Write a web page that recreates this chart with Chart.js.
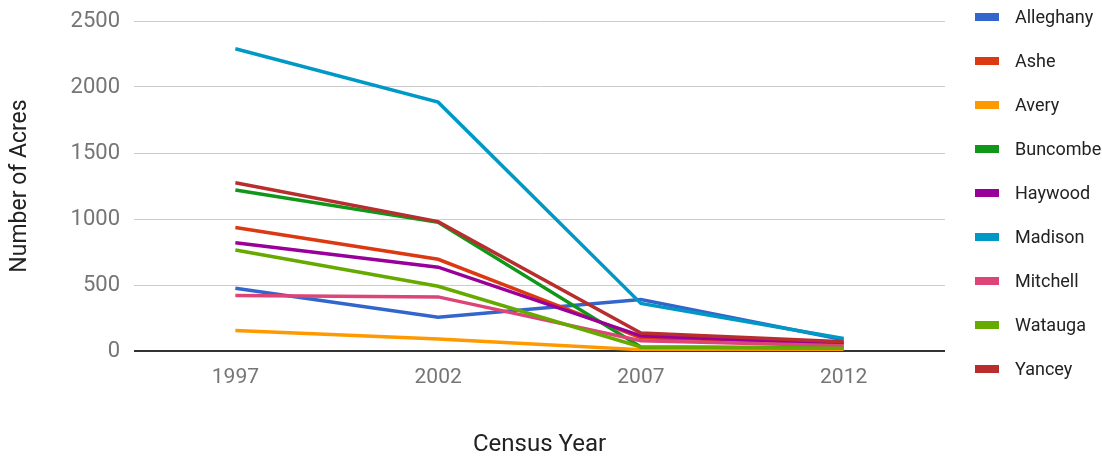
<!DOCTYPE html>
<html>
<head>
<meta charset="utf-8">
<script src="https://cdn.jsdelivr.net/npm/chart.js@4/dist/chart.umd.min.js"></script>
<style>
  body { margin: 0; background: #fff; font-family: Roboto, sans-serif; }
  #wrap { position: relative; width: 1102px; height: 457px; }
  #legend { position: absolute; left: 975px; top: 0; margin: 0; padding: 0; list-style: none; }
  #legend li { position: relative; height: 44px; line-height: 34px; font-size: 18px; color: #222; padding-left: 40px; white-space: nowrap; }
  #legend li span { position: absolute; left: 0; top: 13px; width: 24px; height: 8px; }
</style>
</head>
<body>
<div id="wrap">
  <canvas id="chart"></canvas>
  <ul id="legend"></ul>
</div>
<script>
// Census years on the x axis
const years = ['1997', '2002', '2007', '2012'];

// Acres per county, one value per census year
const alleghany = [475, 255, 390, 85];
const ashe      = [935, 695, 100, 65];
const avery     = [155, 90, 10, 5];
const buncombe  = [1220, 975, 30, 25];
const haywood   = [820, 635, 115, 55];
const madison   = [2290, 1885, 360, 95];
const mitchell  = [420, 410, 78, 40];
const watauga   = [765, 490, 30, 20];
const yancey    = [1275, 980, 136, 70];

const countyNames = ['Alleghany', 'Ashe', 'Avery', 'Buncombe', 'Haywood', 'Madison', 'Mitchell', 'Watauga', 'Yancey'];
const countyData = [alleghany, ashe, avery, buncombe, haywood, madison, mitchell, watauga, yancey];
const countyColors = ['#3366cc', '#dc3912', '#ff9900', '#109618', '#990099', '#0099c6', '#dd4477', '#66aa00', '#b82e2e'];

const yTicks = [0, 500, 1000, 1500, 2000, 2500];

// Simple HTML legend, filled from the datasets after every update
const htmlLegend = {
  id: 'htmlLegend',
  afterUpdate(chart) {
    const ul = document.getElementById('legend');
    ul.innerHTML = '';
    chart.data.datasets.forEach(ds => {
      const li = document.createElement('li');
      const box = document.createElement('span');
      box.style.background = ds.borderColor;
      li.appendChild(box);
      li.appendChild(document.createTextNode(ds.label));
      ul.appendChild(li);
    });
  }
};

const datasets = countyNames.map((name, i) => ({
  label: name,
  data: countyData[i],
  borderColor: countyColors[i],
  backgroundColor: countyColors[i],
  borderWidth: 3.5,
  pointRadius: 0,
  tension: 0,
  order: countyNames.length - i // later counties draw on top
}));

new Chart(document.getElementById('chart'), {
  type: 'line',
  data: { labels: years, datasets: datasets },
  plugins: [htmlLegend],
  options: {
    responsive: true,
    maintainAspectRatio: false,
    animation: false,
    layout: { padding: { top: 21, right: 157, bottom: 0, left: 0 } },
    plugins: {
      legend: { display: false },
      tooltip: { enabled: false }
    },
    scales: {
      x: {
        offset: true,
        grid: { display: false, drawTicks: false },
        border: { display: false },
        ticks: { color: '#757575', font: { family: 'Roboto', size: 21 }, padding: 14 },
        title: { display: true, text: 'Census Year', color: '#222', font: { family: 'Roboto', size: 24 }, padding: { top: 0, bottom: -2 } },
        afterFit: scale => { scale.height = 106; }
      },
      y: {
        min: 0,
        max: 2500,
        afterBuildTicks: scale => { scale.ticks = yTicks.map(v => ({ value: v })); },
        grid: {
          drawTicks: false,
          color: ctx => ctx.tick && ctx.tick.value === 0 ? '#333' : '#ccc',
          lineWidth: ctx => ctx.tick && ctx.tick.value === 0 ? 2 : 1
        },
        border: { display: false },
        ticks: { color: '#757575', font: { family: 'Roboto', size: 22 }, padding: 14, callback: v => String(v) },
        title: { display: true, text: 'Number of Acres', color: '#222', font: { family: 'Roboto', size: 23 }, padding: { top: 6, bottom: 0 } },
        afterFit: scale => {
          scale.width = 134;
          // keep the top label overhang from pushing the plot down
          scale.paddingTop = 0;
          scale.paddingBottom = 0;
        }
      }
    }
  }
});
</script>
</body>
</html>
